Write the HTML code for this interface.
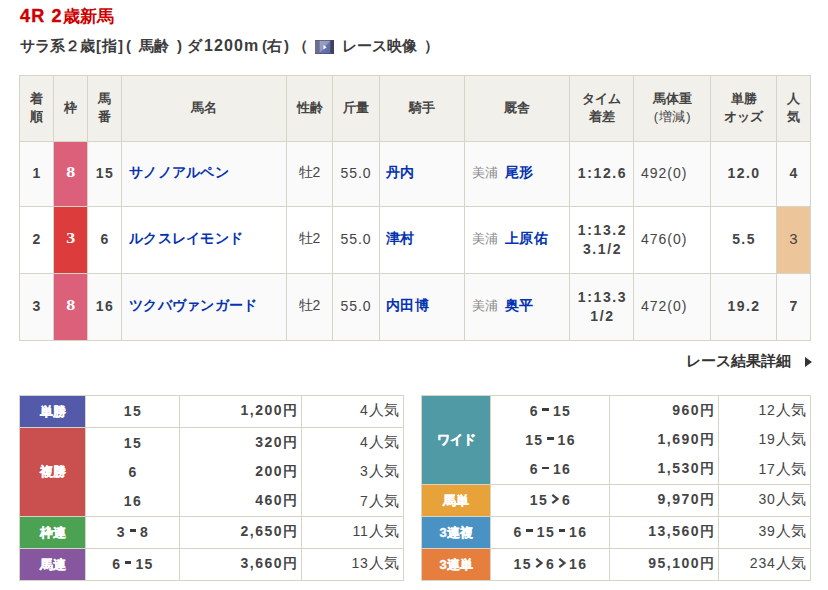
<!DOCTYPE html>
<html lang="ja">
<head>
<meta charset="utf-8">
<style>
*{box-sizing:border-box;margin:0;padding:0}
html,body{width:828px;height:590px;background:#fff;overflow:hidden}
body{font-family:"Liberation Sans",sans-serif;color:#444;position:relative}
.ttl{position:absolute;left:20px;top:4px;font-size:17px;font-weight:bold;color:#cc0000;line-height:24px;white-space:nowrap}
.sub{position:absolute;left:0;top:34px;font-size:15px;font-weight:bold;color:#3c3c3c;line-height:24px;white-space:nowrap}
.sub span{position:absolute;top:0}
.sub .e{font-size:16px;letter-spacing:1.1px;top:-.5px}
.ttl .e{font-size:18px;letter-spacing:1.2px;-webkit-text-stroke:.4px #cc0000}
.sub .ic{left:315px;top:6px;width:19px;height:14px}
.sub .ic svg{display:block}
table{border-collapse:separate;border-spacing:0;table-layout:fixed;position:absolute}
td,th{border-left:1px solid #d6d4c6;border-top:1px solid #d6d4c6;overflow:hidden;white-space:nowrap}
table{border-right:1px solid #d6d4c6;border-bottom:1px solid #d6d4c6}
#main{left:19px;top:75px;width:792px}
#main th{background:#f2f0eb;height:66px;font-size:13px;line-height:18.5px;padding-bottom:1px;font-weight:bold;color:#444;text-align:center;vertical-align:middle}
#main td{height:67px;padding-bottom:3px;font-size:14px;text-align:center;vertical-align:middle;color:#444;background:#fafafa}
#main tr.w td{background:#fff}
#main tr.r1 td{height:65px}
#main td.b{font-weight:bold;letter-spacing:1.4px;padding-left:1px}
#main td.r{letter-spacing:1px}
#main td.l{text-align:left;padding-left:7px}
#main a{color:#0533b0;font-weight:bold;text-decoration:none;font-size:14.3px;letter-spacing:.25px}
#main td.f8{background:#dc6079;color:#fff;font-family:"Liberation Serif",serif;font-weight:bold;font-size:15px}
#main td.f3{background:#dc3c3c !important;color:#fff;font-family:"Liberation Serif",serif;font-weight:bold;font-size:15px}
#main td.f8 b,#main td.f3 b{display:inline-block;transform:scaleX(1.2)}
#main td.pop{background:#edc59b !important;font-weight:normal;font-size:15px;letter-spacing:0;padding-left:0}
#main .g{color:#8a8a8a;font-size:13px;margin-right:7px}
#main td.tm{font-weight:bold;line-height:19px;letter-spacing:1.6px;padding-left:2px;padding-bottom:1px}
.more{position:absolute;left:686px;top:351px;font-size:15px;font-weight:bold;color:#333;line-height:20px;white-space:nowrap}
.more i{position:absolute;left:119px;top:6px;width:0;height:0;border-left:7px solid #333;border-top:5px solid transparent;border-bottom:5px solid transparent}
.pay td{font-size:14px;padding-bottom:2px;vertical-align:middle;background:#fff;color:#444}
.pay th{-webkit-text-stroke:.35px #fff;color:#fff;font-size:13px;font-weight:bold;text-align:center;vertical-align:middle}
.pay td.n{text-align:center;font-weight:bold;letter-spacing:1.4px;padding-left:1px}
.pay td.y{text-align:right;font-weight:bold;padding-right:4px;letter-spacing:1.5px}
.pay td i{font-style:normal;letter-spacing:0}
.pay td.p i{font-size:14.6px;letter-spacing:.4px;margin-right:-.4px}
.pay td.p{text-align:right;padding-right:4px;font-size:14px;letter-spacing:.8px}
.pay tr.c td{border-top:none}
.pay tr.r td,.pay tr.r th{height:32px}
.pay tr.t1 td{height:30px;padding-bottom:0}
.pay tr.t2 td{height:29px;padding-bottom:0}
.pay tr.t3 td{height:30px;padding-bottom:0}
.d{display:inline-block;width:6.5px;height:2.6px;background:#3c3c3c;vertical-align:4.8px;margin:0 4px 0 3.5px}
.a{display:inline-block;width:8px;height:10px;vertical-align:.5px;margin:0 3px 0 3px}
.a svg{display:block}
</style>
</head>
<body>
<div class="ttl"><span class="e">4R 2</span>歳新馬</div>
<div class="sub">
<span style="left:20px">サラ系２歳</span>
<span style="left:96px">[</span>
<span style="left:102px">指</span>
<span style="left:118px">]</span>
<span style="left:126px">(</span>
<span style="left:139px">馬齢</span>
<span style="left:177px">)</span>
<span style="left:187px">ダ</span>
<span style="left:204px" class="e">1200m</span>
<span style="left:262px">(</span>
<span style="left:267px">右</span>
<span style="left:284px">)</span>
<span style="left:293px">（</span>
<span class="ic"><svg width="19" height="14" viewBox="0 0 19 14"><defs><linearGradient id="g1" x1="0" y1="0" x2="1" y2="1"><stop offset="0" stop-color="#9da3c3"/><stop offset=".5" stop-color="#8f96bd"/><stop offset=".5" stop-color="#6873ab"/><stop offset="1" stop-color="#5d67a0"/></linearGradient></defs><rect width="19" height="14" fill="#4a4f70"/><rect x="0" y="0.5" width="4.5" height="13" fill="#6a6f90"/><rect x="4.5" y="0.7" width="11" height="12.6" fill="url(#g1)"/><rect x="15.5" y="0.5" width="3.5" height="13" fill="#3d405e"/><path d="M8.5 5 L11.6 7.3 L8.5 9.6Z" fill="#fff"/></svg></span>
<span style="left:342px">レース映像</span>
<span style="left:424px">）</span>
</div>

<table id="main">
<colgroup><col style="width:34px"><col style="width:34px"><col style="width:34px"><col style="width:165px"><col style="width:46px"><col style="width:47px"><col style="width:85px"><col style="width:105px"><col style="width:64px"><col style="width:77px"><col style="width:66px"><col style="width:34px"></colgroup>
<tr><th>着<br>順</th><th>枠</th><th>馬<br>番</th><th>馬名</th><th>性齢</th><th>斤量</th><th>騎手</th><th>厩舎</th><th>タイム<br>着差</th><th>馬体重<br><span style="font-weight:normal;letter-spacing:.7px;margin-left:1px">(増減)</span></th><th>単勝<br>オッズ</th><th>人<br>気</th></tr>
<tr class="r1"><td class="b">1</td><td class="f8"><b>8</b></td><td class="b">15</td><td class="l"><a>サノノアルペン</a></td><td>牡2</td><td class="r">55.0</td><td class="l" style="padding-left:6px"><a>丹内</a></td><td class="l"><span class="g">美浦</span><a>尾形</a></td><td class="tm">1:12.6</td><td class="l r">492(0)</td><td class="b">12.0</td><td class="b">4</td></tr>
<tr class="w"><td class="b">2</td><td class="f3"><b>3</b></td><td class="b">6</td><td class="l"><a>ルクスレイモンド</a></td><td>牡2</td><td class="r">55.0</td><td class="l" style="padding-left:6px"><a>津村</a></td><td class="l"><span class="g">美浦</span><a>上原佑</a></td><td class="tm">1:13.2<br>3.1/2</td><td class="l r">476(0)</td><td class="b">5.5</td><td class="b pop">3</td></tr>
<tr><td class="b">3</td><td class="f8"><b>8</b></td><td class="b">16</td><td class="l"><a>ツクバヴァンガード</a></td><td>牡2</td><td class="r">55.0</td><td class="l" style="padding-left:6px"><a>内田博</a></td><td class="l"><span class="g">美浦</span><a>奥平</a></td><td class="tm">1:13.3<br>1/2</td><td class="l r">472(0)</td><td class="b">19.2</td><td class="b">7</td></tr>
</table>

<div class="more">レース結果詳細<i></i></div>

<table class="pay" id="p1" style="left:19px;top:395px;width:385px">
<colgroup><col style="width:66px"><col style="width:94px"><col style="width:122px"><col style="width:102px"></colgroup>
<tr class="r"><th style="background:#535aa9">単勝</th><td class="n">15</td><td class="y">1,200<i>円</i></td><td class="p">4<i>人気</i></td></tr>
<tr class="t1"><th rowspan="3" style="background:#c9504f">複勝</th><td class="n">15</td><td class="y">320<i>円</i></td><td class="p">4<i>人気</i></td></tr>
<tr class="c t2"><td class="n">6</td><td class="y">200<i>円</i></td><td class="p">3<i>人気</i></td></tr>
<tr class="c t3"><td class="n">16</td><td class="y">460<i>円</i></td><td class="p">7<i>人気</i></td></tr>
<tr class="r"><th style="background:#4ba252">枠連</th><td class="n">3<span class="d"></span>8</td><td class="y">2,650<i>円</i></td><td class="p">11<i>人気</i></td></tr>
<tr class="r"><th style="background:#86579f">馬連</th><td class="n">6<span class="d"></span>15</td><td class="y">3,660<i>円</i></td><td class="p">13<i>人気</i></td></tr>
</table>

<table class="pay" id="p2" style="left:421px;top:395px;width:390px">
<colgroup><col style="width:69px"><col style="width:119px"><col style="width:109px"><col style="width:92px"></colgroup>
<tr class="t1"><th rowspan="3" style="background:#4f9aa4">ワイド</th><td class="n">6<span class="d"></span>15</td><td class="y">960<i>円</i></td><td class="p">12<i>人気</i></td></tr>
<tr class="c t2"><td class="n">15<span class="d"></span>16</td><td class="y">1,690<i>円</i></td><td class="p">19<i>人気</i></td></tr>
<tr class="c t3"><td class="n">6<span class="d"></span>16</td><td class="y">1,530<i>円</i></td><td class="p">17<i>人気</i></td></tr>
<tr class="r"><th style="background:#e7a339">馬単</th><td class="n">15<span class="a"><svg width="8" height="10" viewBox="0 0 8 10"><path d="M1.3 0.9 L6.4 5 L1.3 9.1" fill="none" stroke="#444" stroke-width="2.2"/></svg></span>6</td><td class="y">9,970<i>円</i></td><td class="p">30<i>人気</i></td></tr>
<tr class="r"><th style="background:#4a92c3">3連複</th><td class="n">6<span class="d"></span>15<span class="d"></span>16</td><td class="y">13,560<i>円</i></td><td class="p">39<i>人気</i></td></tr>
<tr class="r"><th style="background:#e67e3d">3連単</th><td class="n">15<span class="a"><svg width="8" height="10" viewBox="0 0 8 10"><path d="M1.3 0.9 L6.4 5 L1.3 9.1" fill="none" stroke="#444" stroke-width="2.2"/></svg></span>6<span class="a"><svg width="8" height="10" viewBox="0 0 8 10"><path d="M1.3 0.9 L6.4 5 L1.3 9.1" fill="none" stroke="#444" stroke-width="2.2"/></svg></span>16</td><td class="y">95,100<i>円</i></td><td class="p">234<i>人気</i></td></tr>
</table>
</body>
</html>
